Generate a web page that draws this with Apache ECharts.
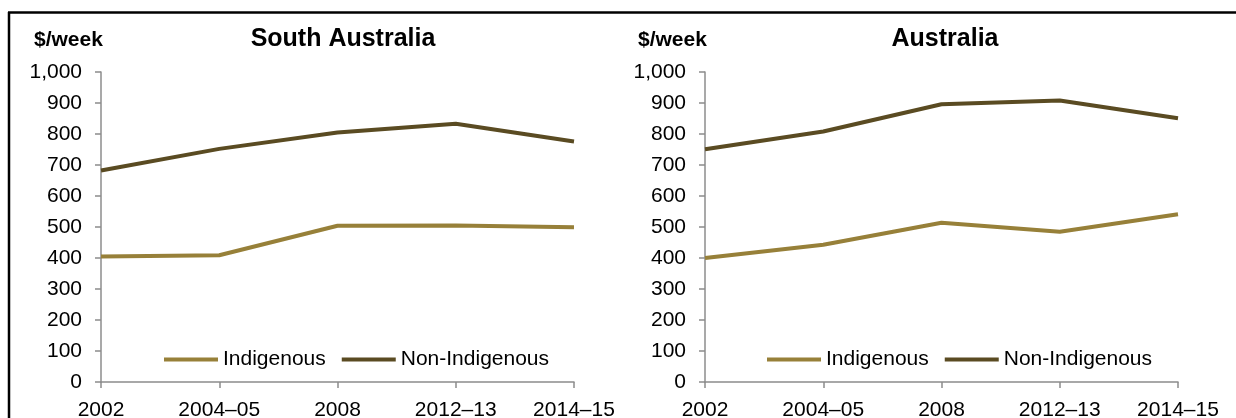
<!DOCTYPE html>
<html><head><meta charset="utf-8">
<script src="https://cdn.jsdelivr.net/npm/echarts@6/dist/echarts.min.js"></script>
<style>html,body{margin:0;padding:0;background:#fff}#c{width:1236px;height:418px}</style>
</head><body><div id="c"></div>
<script>
const categories = ['2002', '2004–05', '2008', '2012–13', '2014–15'];
const yTicks = [0, 100, 200, 300, 400, 500, 600, 700, 800, 900, 1000];
const saIndigenous = [405, 409, 504, 505, 499];
const saNonIndigenous = [682, 752, 805, 833, 776];
const auIndigenous = [400, 443, 514, 485, 541];
const auNonIndigenous = [751, 808, 896, 908, 851];
const panelTitles = ['South Australia', 'Australia'];
const unitLabel = '$/week';
const seriesNames = ['Indigenous', 'Non-Indigenous'];

const FONT = 'Liberation Sans, Arial, sans-serif';
const colInd = '#978039';
const colNon = '#5a4b22';
const axisCol = '#8c8c8c';

const grids = [
  {left: 101, top: 72, width: 473, height: 310, outerBoundsMode:'none', containLabel:false},
  {left: 705, top: 72, width: 473, height: 310, outerBoundsMode:'none', containLabel:false}
];

function xAxis(i){
  return {type:'category', gridIndex:i, data:categories, boundaryGap:false,
    axisLine:{lineStyle:{color:axisCol,width:1.5}},
    axisTick:{show:true, length:6, lineStyle:{color:axisCol,width:1.5}},
    axisLabel:{color:'#000', fontSize:21, fontFamily:FONT, margin:18, interval:0},
    splitLine:{show:false}};
}
function yAxis(i){
  return {type:'value', gridIndex:i, min:yTicks[0], max:yTicks[yTicks.length-1], interval:100,
    axisLine:{show:true, lineStyle:{color:axisCol,width:1.5}},
    axisTick:{show:true, length:6, lineStyle:{color:axisCol,width:1.5}},
    axisLabel:{color:'#000', fontSize:21, fontFamily:FONT, margin:19,
      formatter: v => v.toLocaleString('en-US')},
    splitLine:{show:false}};
}
function line(name, data, i, color){
  return {type:'line', name, data, xAxisIndex:i, yAxisIndex:i, symbol:'none',
    lineStyle:{color, width:4}, itemStyle:{color}, animation:false};
}
const legendBase = {icon:'rect', itemWidth:54, itemHeight:4, itemGap:16,
  textStyle:{color:'#000', fontSize:21, fontFamily:FONT}, data:seriesNames};

const titleStyle = {fontSize:25, fontWeight:'bold', fontFamily:FONT, color:'#000'};
const unitStyle = {fontSize:21, fontWeight:'bold', fontFamily:FONT, color:'#000'};
const option = {
  animation:false,
  grid: grids,
  xAxis:[xAxis(0), xAxis(1)],
  yAxis:[yAxis(0), yAxis(1)],
  title:[
    {text:panelTitles[0], left:338, top:22, textAlign:'center', textStyle:titleStyle},
    {text:panelTitles[1], left:940, top:22, textAlign:'center', textStyle:titleStyle},
    {text:unitLabel, left:29, top:25, textStyle:unitStyle},
    {text:unitLabel, left:633, top:25, textStyle:unitStyle}
  ],
  legend:[
    Object.assign({left:159, top:344}, legendBase),
    Object.assign({left:762, top:344}, legendBase)
  ],
  series:[
    line(seriesNames[0], saIndigenous, 0, colInd),
    line(seriesNames[1], saNonIndigenous, 0, colNon),
    line(seriesNames[0], auIndigenous, 1, colInd),
    line(seriesNames[1], auNonIndigenous, 1, colNon)
  ],
  graphic:[
    {type:'line', shape:{x1:8, y1:12.5, x2:1236, y2:12.5}, style:{stroke:'#000', lineWidth:2.5}},
    {type:'line', shape:{x1:9, y1:12, x2:9, y2:418}, style:{stroke:'#000', lineWidth:2.5}}
  ]
};
const chart = echarts.init(document.getElementById('c'), null, {renderer:'canvas'});
chart.setOption(option);
</script></body></html>
